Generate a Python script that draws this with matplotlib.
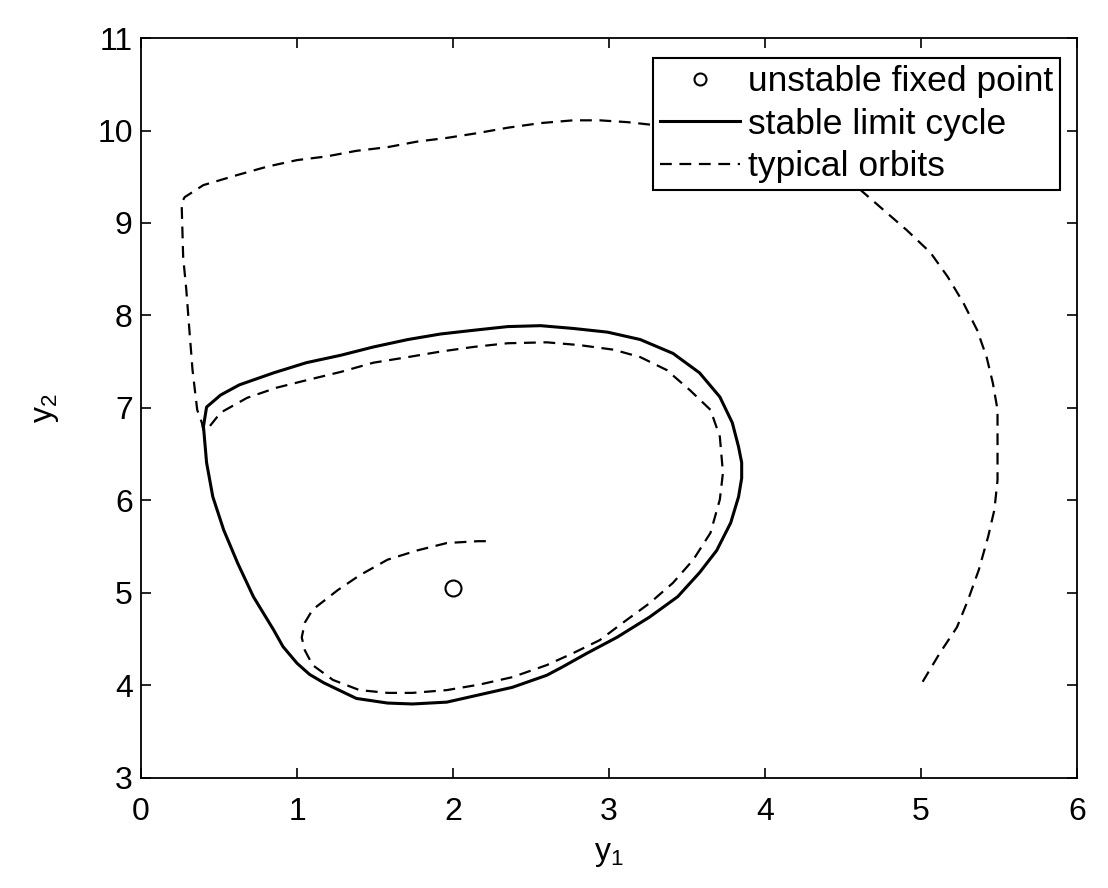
import matplotlib
matplotlib.use("Agg")
import matplotlib.pyplot as plt

plt.rcParams['font.family'] = ['Liberation Sans', 'DejaVu Sans']
plt.rcParams['mathtext.default'] = 'regular'
plt.rcParams['lines.scale_dashes'] = False

# unstable fixed point
fixed_x = [2.0]
fixed_y = [5.05]

# stable limit cycle (closed)
cycle_x = [0.40, 0.42, 0.51, 0.63, 0.85, 1.06, 1.28, 1.49, 1.71, 1.92, 2.13, 2.35,
           2.56, 2.77, 2.99, 3.20, 3.41, 3.58, 3.71, 3.79, 3.83, 3.85, 3.85, 3.83,
           3.78, 3.69, 3.58, 3.44, 3.26, 3.05, 2.86, 2.69, 2.60, 2.38, 2.17, 1.96,
           1.74, 1.58, 1.38, 1.17, 1.08, 1.00, 0.91, 0.85, 0.72, 0.62, 0.53, 0.46,
           0.42, 0.40]
cycle_y = [6.80, 7.01, 7.14, 7.25, 7.38, 7.49, 7.57, 7.66, 7.74, 7.80, 7.84, 7.88,
           7.89, 7.86, 7.82, 7.74, 7.59, 7.38, 7.12, 6.84, 6.58, 6.41, 6.24, 6.04,
           5.76, 5.46, 5.22, 4.96, 4.74, 4.52, 4.35, 4.19, 4.11, 3.98, 3.90, 3.82,
           3.80, 3.81, 3.86, 4.03, 4.12, 4.24, 4.42, 4.60, 4.96, 5.32, 5.68, 6.04,
           6.41, 6.80]

# orbit starting inside the cycle
inner_x = [2.21, 2.16, 1.96, 1.77, 1.58, 1.40, 1.26, 1.10, 1.05, 1.03, 1.05, 1.10,
           1.23, 1.40, 1.58, 1.74, 1.96, 2.17, 2.38, 2.60, 2.77, 2.94, 3.09, 3.26,
           3.41, 3.54, 3.65, 3.71, 3.73, 3.71, 3.65, 3.52, 3.37, 3.20, 3.03, 2.81,
           2.60, 2.35, 2.13, 1.92, 1.71, 1.49, 1.28, 1.06, 0.87, 0.68, 0.51, 0.42]
inner_y = [5.56, 5.56, 5.54, 5.46, 5.36, 5.19, 5.03, 4.82, 4.68, 4.52, 4.38, 4.22,
           4.06, 3.95, 3.92, 3.92, 3.95, 4.01, 4.09, 4.22, 4.35, 4.49, 4.68, 4.89,
           5.11, 5.36, 5.65, 6.01, 6.30, 6.69, 6.98, 7.19, 7.41, 7.55, 7.63, 7.68,
           7.71, 7.70, 7.66, 7.61, 7.55, 7.49, 7.39, 7.30, 7.22, 7.11, 6.95, 6.76]

# orbit starting outside the cycle
outer_x = [5.01, 5.12, 5.23, 5.30, 5.37, 5.43, 5.47, 5.49, 5.49, 5.49, 5.46, 5.42,
           5.36, 5.27, 5.17, 5.06, 4.91, 4.76, 4.61, 4.30, 3.90, 3.50, 3.12, 2.94,
           2.77, 2.56, 2.35, 2.15, 1.96, 1.77, 1.58, 1.38, 1.19, 1.00, 0.81, 0.62,
           0.40, 0.28, 0.26, 0.27, 0.29, 0.31, 0.33, 0.36, 0.39, 0.40]
outer_y = [4.04, 4.35, 4.63, 4.92, 5.25, 5.61, 5.90, 6.22, 6.62, 6.98, 7.27, 7.55,
           7.84, 8.14, 8.42, 8.68, 8.92, 9.14, 9.36, 9.65, 9.88, 10.02, 10.09, 10.11,
           10.11, 10.08, 10.03, 9.97, 9.92, 9.88, 9.82, 9.78, 9.72, 9.68, 9.61, 9.52,
           9.41, 9.28, 9.22, 8.63, 8.28, 7.84, 7.41, 6.98, 6.84, 6.76]

fig = plt.figure(figsize=(11.08, 8.88), dpi=100)
ax = fig.add_axes([0.1273, 0.1239, 0.8448, 0.8333])

dash = (8.5, 5.5)
pt, = ax.plot(fixed_x, fixed_y, 'o', mfc='white', mec='black', ms=11.5, mew=1.5,
              label='unstable fixed point', zorder=4)
lc, = ax.plot(cycle_x, cycle_y, color='black', lw=2.2, label='stable limit cycle',
              zorder=3, solid_joinstyle='round')
orb, = ax.plot(inner_x, inner_y, color='black', lw=1.6, dashes=dash,
               label='typical orbits', zorder=2)
ax.plot(outer_x, outer_y, color='black', lw=1.6, dashes=dash, zorder=2)

ax.set_xlim(0, 6)
ax.set_ylim(3, 11)
ax.set_xticks(range(0, 7))
ax.set_yticks(range(3, 12))
ax.tick_params(direction='in', length=7, width=1.2, top=True, right=True,
               labelsize=23)
ax.tick_params(axis='x', pad=14)
ax.tick_params(axis='y', pad=6)
for s in ax.spines.values():
    s.set_linewidth(1.3)

ax.set_xlabel('$y_1$', fontsize=23, labelpad=8)
ax.set_ylabel('$y_2$', fontsize=23, labelpad=26)

leg = ax.legend(handles=[pt, lc, orb], loc='upper right',
                bbox_to_anchor=(0.982, 0.973), borderaxespad=0,
                fontsize=25.5, fancybox=False, framealpha=1, edgecolor='black',
                handlelength=2.25, handletextpad=0.22, labelspacing=0.27,
                borderpad=0.2, markerscale=0.75)
leg.get_frame().set_linewidth(1.5)

fig.savefig('out.png', dpi=100)
